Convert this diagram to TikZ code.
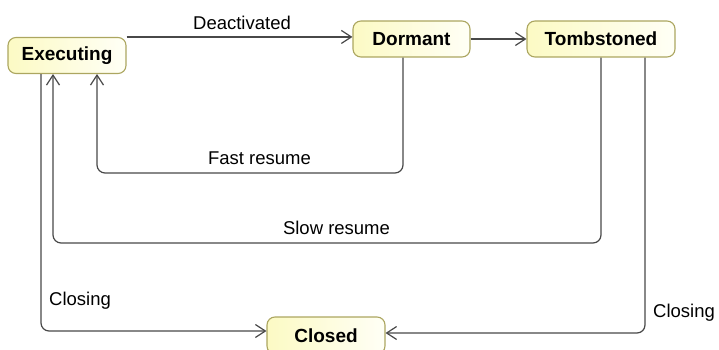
\documentclass[tikz,border=0pt]{standalone}
\usepackage{fontspec}
\setmainfont{Liberation Sans}
\usetikzlibrary{arrows.meta}
\definecolor{stateborder}{RGB}{172,166,96}
\definecolor{statefillL}{RGB}{252,250,196}
\definecolor{statefillR}{RGB}{255,255,246}
\definecolor{wire}{RGB}{72,72,72}
\tikzset{
  state/.style={draw=stateborder, line width=1.1pt, rounded corners=8pt,
    left color=statefillL, right color=statefillR,
    font=\fontsize{19}{22}\selectfont\bfseries, inner sep=0pt,
    minimum height=36pt},
  trans/.style={draw=wire, line width=1.2pt, rounded corners=8pt,
    -{Straight Barb[length=10pt,width=13pt,line width=1.2pt]}},
  lbl/.style={font=\fontsize{18.5}{21}\selectfont, inner sep=0pt}
}
\begin{document}
\begin{tikzpicture}[x=1pt,y=-1pt]
\useasboundingbox (0,0) rectangle (719,350);
% states
\node[state, minimum width=118pt] (exe) at (67,55.5) {Executing};
\node[state, minimum width=117pt] (dor) at (411.5,39) {Dormant};
\node[state, minimum width=148pt] (tom) at (601,39) {Tombstoned};
\node[state, minimum width=118pt, minimum height=37pt] (clo) at (326,335.5) {Closed};
% bend points of the routed transitions
\coordinate (fastA) at (403,173);
\coordinate (slowA) at (601,243);
\coordinate (closeL) at (41,331);
\coordinate (closeR) at (645,333);
% transitions
\draw[trans] (exe.north east) -- (exe.north east -| dor.west);
\draw[trans] (dor.east) -- (tom.west);
\draw[trans] (fastA |- dor.south) -- (fastA) -- (97,173) -- (97,74);
\draw[trans] (tom.south) -- (slowA) -- (53,243) -- (53,74);
\draw[trans] (closeL |- exe.south) -- (closeL) -- (closeL -| clo.west);
\draw[trans] (closeR |- tom.south) -- (closeR) -- (closeR -| clo.east);
% labels
\node[lbl] (lDeact) at (242,23) {Deactivated};
\node[lbl] (lFast) at (259.5,158) {Fast resume};
\node[lbl] (lSlow) at (336.5,228) {Slow resume};
\node[lbl] (lCloseL) at (80,301) {Closing};
\node[lbl] (lCloseR) at (684,313) {Closing};
\end{tikzpicture}
\end{document}
